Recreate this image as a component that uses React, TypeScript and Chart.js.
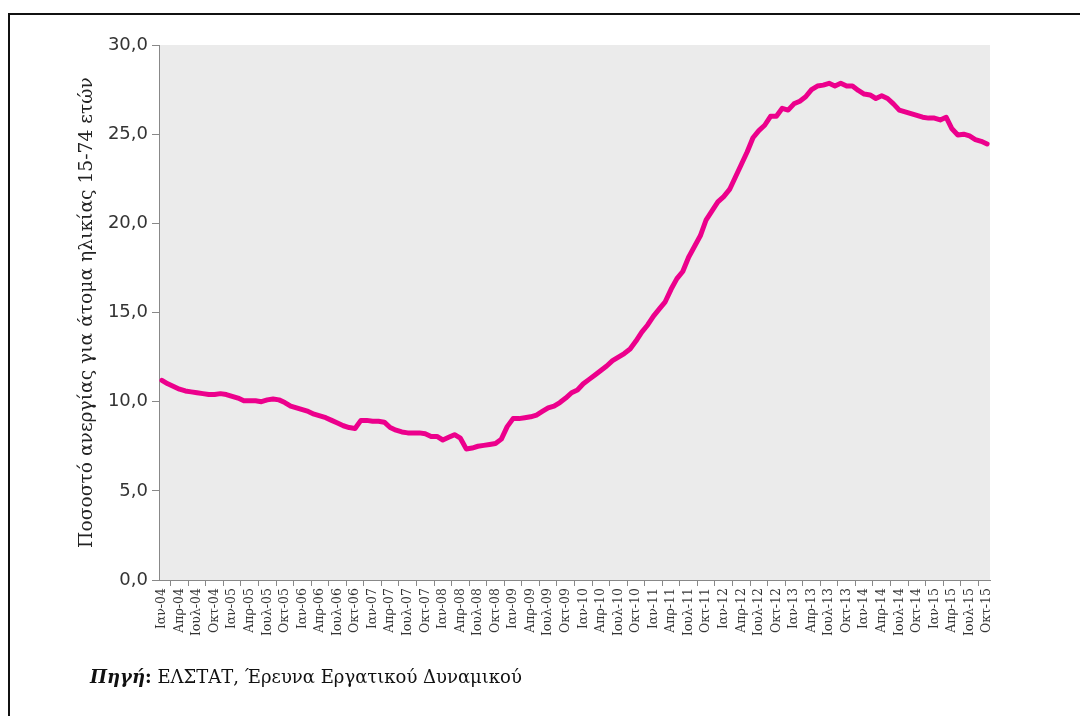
import React, { useEffect, useRef } from "react";
import { Chart, registerables } from "chart.js";

Chart.register(...registerables);

const monthNames = ["Ιαν", "Φεβ", "Μαρ", "Απρ", "Μαϊ", "Ιουν", "Ιουλ", "Αυγ", "Σεπ", "Οκτ", "Νοε", "Δεκ"];
const years = ["04", "05", "06", "07", "08", "09", "10", "11", "12", "13", "14", "15"];

const rate2004 = [11.2, 11.0, 10.85, 10.7, 10.6, 10.55, 10.5, 10.45, 10.4, 10.4, 10.45, 10.4];
const rate2005 = [10.3, 10.2, 10.05, 10.05, 10.05, 10.0, 10.1, 10.15, 10.1, 9.95, 9.75, 9.65];
const rate2006 = [9.55, 9.45, 9.3, 9.2, 9.1, 8.95, 8.8, 8.65, 8.55, 8.5, 8.95, 8.95];
const rate2007 = [8.9, 8.9, 8.85, 8.55, 8.4, 8.3, 8.25, 8.25, 8.25, 8.2, 8.05, 8.05];
const rate2008 = [7.85, 8.0, 8.15, 7.95, 7.35, 7.4, 7.5, 7.55, 7.6, 7.65, 7.9, 8.6];
const rate2009 = [9.05, 9.05, 9.1, 9.15, 9.25, 9.45, 9.65, 9.75, 9.95, 10.2, 10.5, 10.65];
const rate2010 = [11.0, 11.25, 11.5, 11.75, 12.0, 12.3, 12.5, 12.7, 12.95, 13.4, 13.9, 14.3];
const rate2011 = [14.8, 15.2, 15.6, 16.3, 16.9, 17.3, 18.1, 18.7, 19.3, 20.2, 20.7, 21.2];
const rate2012 = [21.5, 21.9, 22.6, 23.3, 24.0, 24.8, 25.2, 25.5, 26.0, 26.0, 26.45, 26.35];
const rate2013 = [26.7, 26.85, 27.1, 27.5, 27.7, 27.75, 27.85, 27.7, 27.85, 27.7, 27.7, 27.45];
const rate2014 = [27.25, 27.2, 27.0, 27.15, 27.0, 26.7, 26.35, 26.25, 26.15, 26.05, 25.95, 25.9];
const rate2015 = [25.9, 25.8, 25.95, 25.3, 24.95, 25.0, 24.9, 24.7, 24.6, 24.45];

const yTicks = [0, 5, 10, 15, 20, 25, 30];
const yTitle = "Ποσοστό ανεργίας για άτομα ηλικίας 15-74 ετών";

export default function App() {
  const ref = useRef<HTMLCanvasElement | null>(null);

  useEffect(() => {
    const values = [
      ...rate2004, ...rate2005, ...rate2006, ...rate2007, ...rate2008, ...rate2009,
      ...rate2010, ...rate2011, ...rate2012, ...rate2013, ...rate2014, ...rate2015,
    ];
    const labels: string[] = [];
    for (let i = 0; i < values.length; i++) {
      labels.push(monthNames[i % 12] + "-" + years[Math.floor(i / 12)]);
    }
    const bgPlugin = {
      id: "plotBg",
      beforeDraw(chart: any) {
        const { ctx, chartArea } = chart;
        ctx.save();
        ctx.fillStyle = "#ebebeb";
        ctx.fillRect(chartArea.left, chartArea.top, chartArea.right - chartArea.left, chartArea.bottom - chartArea.top);
        ctx.restore();
      },
    };
    const chart = new Chart(ref.current!, {
      type: "line",
      data: {
        labels,
        datasets: [
          {
            data: values,
            borderColor: "#ec008c",
            borderWidth: 5,
            pointRadius: 0,
            tension: 0,
            borderJoinStyle: "round",
            borderCapStyle: "round",
            fill: false,
          },
        ],
      },
      options: {
        animation: false,
        responsive: false,
        layout: { padding: { left: 72, top: 45, right: 90, bottom: 36 } },
        plugins: { legend: { display: false }, tooltip: { enabled: false } },
        scales: {
          x: {
            type: "category",
            offset: true,
            grid: { display: true, drawOnChartArea: false, drawTicks: true, tickLength: 6, color: "#888", offset: true },
            border: { display: true, color: "#888" },
            ticks: {
              autoSkip: false,
              maxRotation: 90,
              minRotation: 90,
              padding: 2,
              color: "#333",
              font: { family: "DejaVu Serif", size: 12.5 },
              callback: (_v: any, i: number) => (i % 3 === 0 ? labels[i] : null),
            },
            afterFit: (s: any) => {
              s.height = 100;
            },
          },
          y: {
            min: 0,
            max: 30,
            afterBuildTicks: (s: any) => {
              s.ticks = yTicks.map((v) => ({ value: v }));
            },
            grid: { display: true, drawOnChartArea: false, drawTicks: true, tickLength: 7, color: "#888" },
            border: { display: true, color: "#888" },
            ticks: {
              padding: 4,
              color: "#333",
              font: { family: "DejaVu Sans", size: 18 },
              callback: (v: any) => Number(v).toFixed(1).replace(".", ","),
            },
            title: {
              display: true,
              text: yTitle,
              color: "#222",
              font: { family: "DejaVu Serif", size: 18.7 },
              padding: { top: 4, bottom: 4 },
            },
            afterFit: (s: any) => {
              s.width = 87;
            },
          },
        },
      },
      plugins: [bgPlugin],
    });
    return () => chart.destroy();
  }, []);

  return (
    <div style={{ position: "fixed", left: 0, top: 0, width: 1080, height: 716, background: "#fff", overflow: "hidden" }}>
      <canvas ref={ref} width={1080} height={716} style={{ position: "absolute", left: 0, top: 0, width: 1080, height: 716 }} />
      <div
        style={{
          position: "absolute",
          left: 8,
          top: 13,
          width: 1100,
          height: 720,
          borderTop: "2px solid #111",
          borderLeft: "2px solid #111",
          pointerEvents: "none",
        }}
      />
      <div
        style={{
          position: "absolute",
          left: 90,
          top: 665,
          fontFamily: "DejaVu Serif",
          fontSize: 18,
          lineHeight: "24px",
          color: "#111",
          whiteSpace: "nowrap",
        }}
      >
        <b>
          <i>Πηγή</i>:
        </b>{" "}
        ΕΛΣΤΑΤ, Έρευνα Εργατικού Δυναμικού
      </div>
    </div>
  );
}
